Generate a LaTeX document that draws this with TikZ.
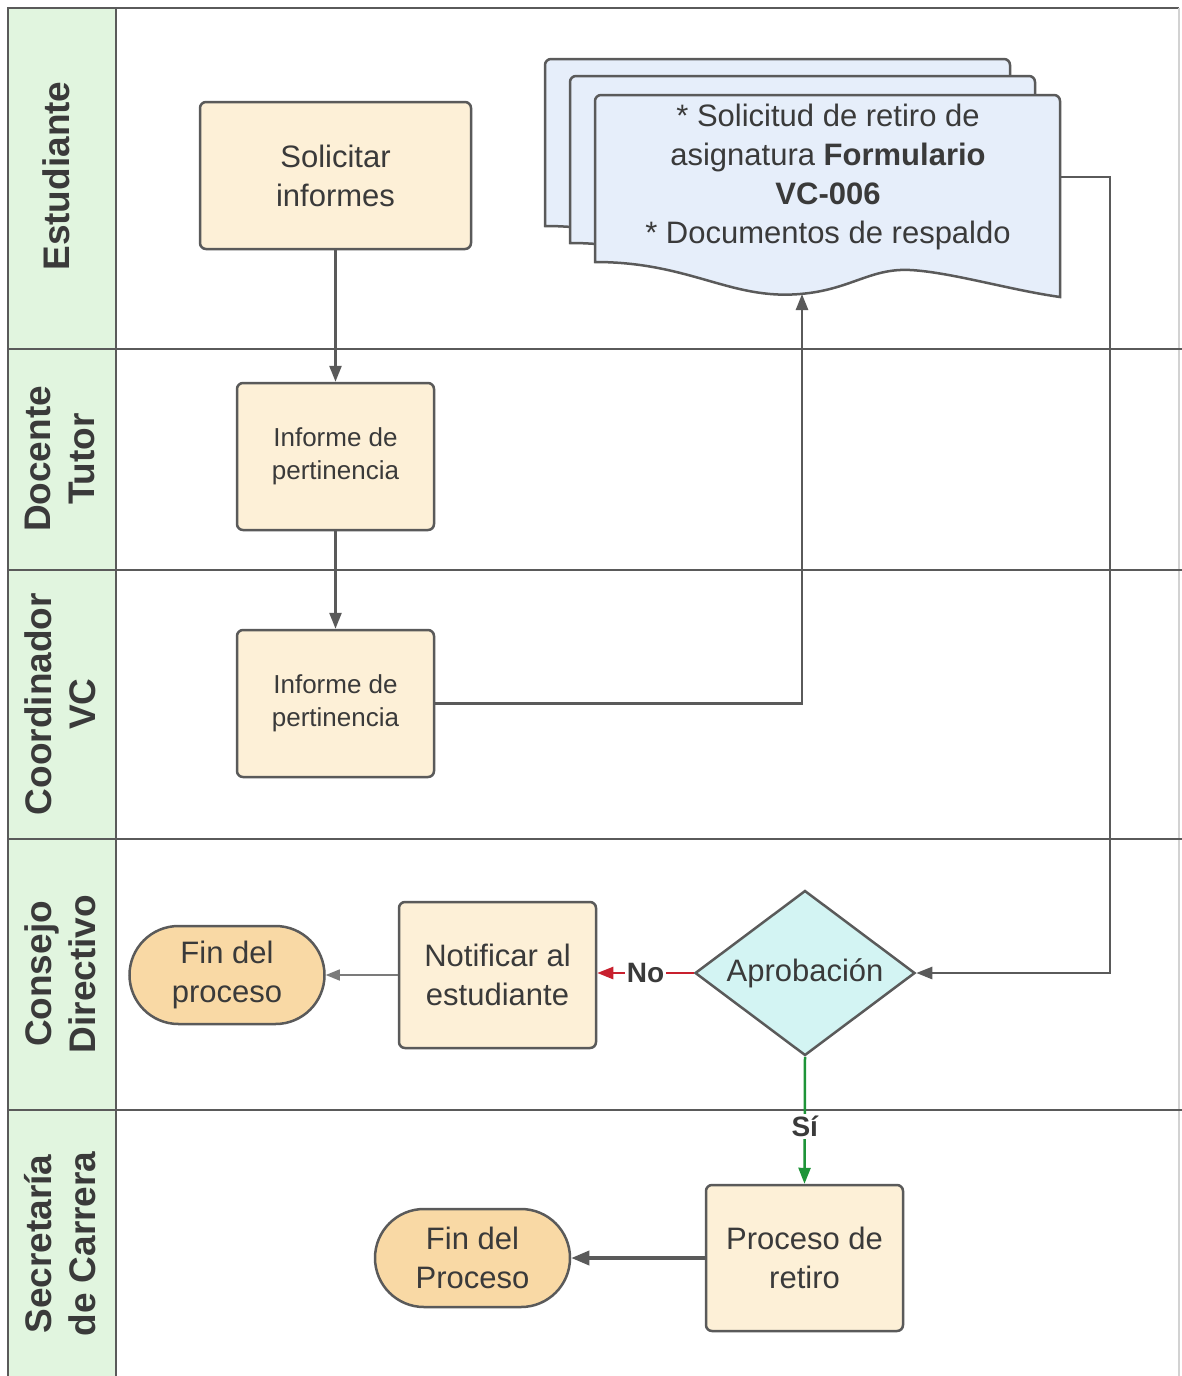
\documentclass[tikz,border=0pt]{standalone}
\usepackage{fontspec}
\setmainfont{Liberation Sans}
\usetikzlibrary{shapes.geometric,arrows.meta}
\definecolor{hdr}{HTML}{E1F5DF}
\definecolor{boxf}{HTML}{FDF0D7}
\definecolor{termf}{HTML}{F9D9A5}
\definecolor{docf}{HTML}{E6EEFA}
\definecolor{diaf}{HTML}{D3F4F3}
\definecolor{ln}{HTML}{5A5A5A}
\definecolor{txt}{HTML}{3A3A3A}
\definecolor{redc}{HTML}{C8202E}
\definecolor{grn}{HTML}{1E9438}
\tikzset{
  lane/.style={draw=ln, line width=2.5},
  hdrtxt/.style={rotate=90, text=txt, align=center, font=\fontsize{37}{44}\selectfont\bfseries, inner sep=0},
  procbox/.style={draw=ln, line width=2.5, fill=boxf, rounded corners=6, text=txt, align=center, inner sep=0, font=\fontsize{31}{39}\selectfont},
  smallbox/.style={procbox, font=\fontsize{26}{33}\selectfont},
  termbox/.style={draw=ln, line width=2.5, fill=termf, rounded corners=49, text=txt, align=center, inner sep=0, minimum width=195, minimum height=98, font=\fontsize{31}{39}\selectfont},
  decision/.style={diamond, draw=ln, line width=2.5, fill=diaf, text=txt, inner sep=0, shape aspect=1.33, minimum width=220, minimum height=165, font=\fontsize{31}{39}\selectfont},
  sheet/.style={draw=ln, line width=2.5, fill=docf},
  doctext/.style={text=txt, align=center, inner sep=0, font=\fontsize{31}{39}\selectfont},
  conn/.style={draw=ln, line width=2.5, -{Triangle[length=16,width=12]}},
  thinconn/.style={draw=ln!80, line width=1.5, -{Triangle[length=14,width=11]}},
  thickconn/.style={draw=ln, line width=3.5, -{Triangle[length=18,width=14]}},
  noconn/.style={draw=redc, line width=2.5, -{Triangle[length=16,width=12]}},
  siconn/.style={draw=grn, line width=2.5, -{Triangle[length=16,width=12]}},
  lbl/.style={fill=white, text=txt, inner sep=2, font=\fontsize{28}{32}\selectfont\bfseries}
}
\newcommand\sheetpath{(595,262) [rounded corners=6]-- (595,95) -- (1060,95) [sharp corners]-- (1060,297)
  .. controls (1010,290) and (950,272) .. (910,270)
  .. controls (870,268) and (850,290) .. (800,294)
  .. controls (730,300) and (690,262) .. (595,262) -- cycle}
\begin{document}
\begin{tikzpicture}[x=1pt,y=-1pt]
\useasboundingbox (0,0) rectangle (1182,1376);
\fill[white] (0,0) rectangle (1182,1376);
% lanes
\fill[hdr] (8,8) rectangle (116,1376);
\draw[lane] (8,1376) -- (8,8) -- (1179,8);
\draw[gray!35, line width=1.5] (1179,8) -- (1179,1376);
\draw[lane] (116,8) -- (116,1376);
\foreach \yy in {349,570,839,1110} \draw[lane] (8,\yy) -- (1182,\yy);
\node[hdrtxt] (hEst) at (56,176) {Estudiante};
\node[hdrtxt] (hDoc) at (60,459) {Docente\\Tutor};
\node[hdrtxt] (hCoo) at (60,704) {Coordinador\\VC};
\node[hdrtxt] (hCon) at (60,974) {Consejo\\Directivo};
\node[hdrtxt] (hSec) at (60,1244) {Secretaría\\de Carrera};
% document stack
\begin{scope}[shift={(-50,-36)}]\path[sheet] \sheetpath;\end{scope}
\begin{scope}[shift={(-25,-19)}]\path[sheet] \sheetpath;\end{scope}
\path[sheet] \sheetpath;
\node[doctext] (doc) at (828,177) {* Solicitud de retiro de\\asignatura \textbf{Formulario}\\\textbf{VC-006}\\* Documentos de respaldo};
\coordinate (docR) at (1060,177);
\coordinate (docB) at (802,294);
% nodes
\node[procbox, minimum width=271, minimum height=147] (sol) at (335.5,175.5) {Solicitar\\informes};
\node[smallbox, minimum width=197, minimum height=147] (inf1) at (335.5,456.5) {Informe de\\pertinencia};
\node[smallbox, minimum width=197, minimum height=147] (inf2) at (335.5,703.5) {Informe de\\pertinencia};
\node[decision] (dia) at (805,973) {Aprobación};
\node[procbox, minimum width=197, minimum height=146] (notif) at (497.5,975) {Notificar al\\estudiante};
\node[termbox] (fin1) at (227,975) {Fin del\\proceso};
\node[procbox, minimum width=197, minimum height=146] (proc) at (804.5,1258) {Proceso de\\retiro};
\node[termbox] (fin2) at (472.5,1258) {Fin del\\Proceso};
% connectors
\draw[conn] (sol) -- (inf1);
\draw[conn] (inf1) -- (inf2);
\draw[conn] (inf2.east) -| (docB);
\draw[conn] (docR) -- (1110,177) |- (dia.east);
\draw[noconn] (dia.west) -- node[lbl, pos=0.5] (noL) {No} (dia.west -| notif.east);
\draw[thinconn] (notif.west) -- (fin1.east);
\draw[siconn] (dia.south) -- node[lbl, pos=0.55] (siL) {Sí} (proc.north);
\draw[thickconn] (proc.west) -- (fin2.east);
\end{tikzpicture}
\end{document}
